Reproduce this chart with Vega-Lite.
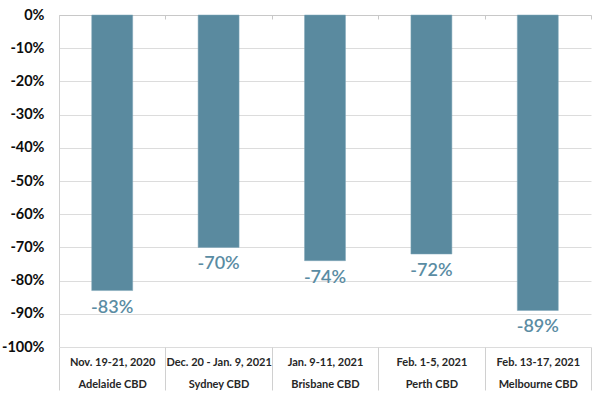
{
  "$schema": "https://vega.github.io/schema/vega-lite/v6.json",
  "width": 532,
  "height": 332,
  "autosize": {"type": "none"},
  "padding": {"left": 59, "top": 15, "right": 10, "bottom": 50},
  "background": "white",
  "config": {"view": {"stroke": null}, "font": "Lato"},
  "data": {
    "values": [
      {"period": "Nov. 19-21, 2020", "city": "Adelaide CBD", "change": -83},
      {"period": "Dec. 20 - Jan. 9, 2021", "city": "Sydney CBD", "change": -70},
      {"period": "Jan. 9-11, 2021", "city": "Brisbane CBD", "change": -74},
      {"period": "Feb. 1-5, 2021", "city": "Perth CBD", "change": -72},
      {"period": "Feb. 13-17, 2021", "city": "Melbourne CBD", "change": -89}
    ]
  },
  "transform": [
    {"calculate": "datum.period + '|' + datum.city", "as": "cat"},
    {"calculate": "datum.change + '%'", "as": "lbl"}
  ],
  "encoding": {
    "y": {
      "field": "change",
      "type": "quantitative",
      "scale": {"domain": [-100, 0], "nice": false},
      "axis": {
        "title": null,
        "values": [0, -10, -20, -30, -40, -50, -60, -70, -80, -90, -100],
        "labelExpr": "datum.value + '%'",
        "labelFont": "Lato",
        "labelFontWeight": "bold",
        "labelFontSize": 14.5,
        "labelColor": "#0d0d0d",
        "labelPadding": 15,
        "labelOverlap": false,
        "ticks": false,
        "domainColor": "#d0d0d0",
        "gridColor": "#dcdcdc"
      }
    }
  },
  "resolve": {"axis": {"x": "independent"}},
  "layer": [
    {
      "mark": {"type": "bar", "color": "#5A8A9F", "stroke": "#7FA6B8", "strokeWidth": 0.5, "width": {"band": 0.385}},
      "encoding": {
        "x": {
          "field": "cat",
          "type": "nominal",
          "sort": null,
          "scale": {"paddingInner": 0, "paddingOuter": 0},
          "axis": {
            "orient": "bottom",
            "title": null,
            "labelAngle": 0,
            "labelExpr": "split(datum.label, '|')",
            "labelFont": "Lato",
            "labelFontWeight": "bold",
            "labelFontSize": 11,
            "labelColor": "#262626",
            "labelLineHeight": 22,
            "labelBaseline": "top",
            "labelPadding": -34,
            "labelOverlap": false,
            "labelBound": false,
            "tickBand": "extent",
            "tickSize": 43,
            "tickColor": "#d0d0d0",
            "domain": false,
            "grid": false
          }
        }
      }
    },
    {
      "mark": {"type": "text", "baseline": "middle", "dy": 17, "fontSize": 18, "font": "Lato", "fontWeight": 600, "color": "#5A8CA3"},
      "encoding": {
        "x": {
          "field": "cat",
          "type": "nominal",
          "sort": null,
          "axis": {
            "orient": "top",
            "title": null,
            "labels": false,
            "tickBand": "extent",
            "tickSize": -4,
            "tickColor": "#c8c8c8",
            "domainColor": "#c8c8c8",
            "grid": false
          }
        },
        "text": {"field": "lbl", "type": "nominal"}
      }
    }
  ]
}
